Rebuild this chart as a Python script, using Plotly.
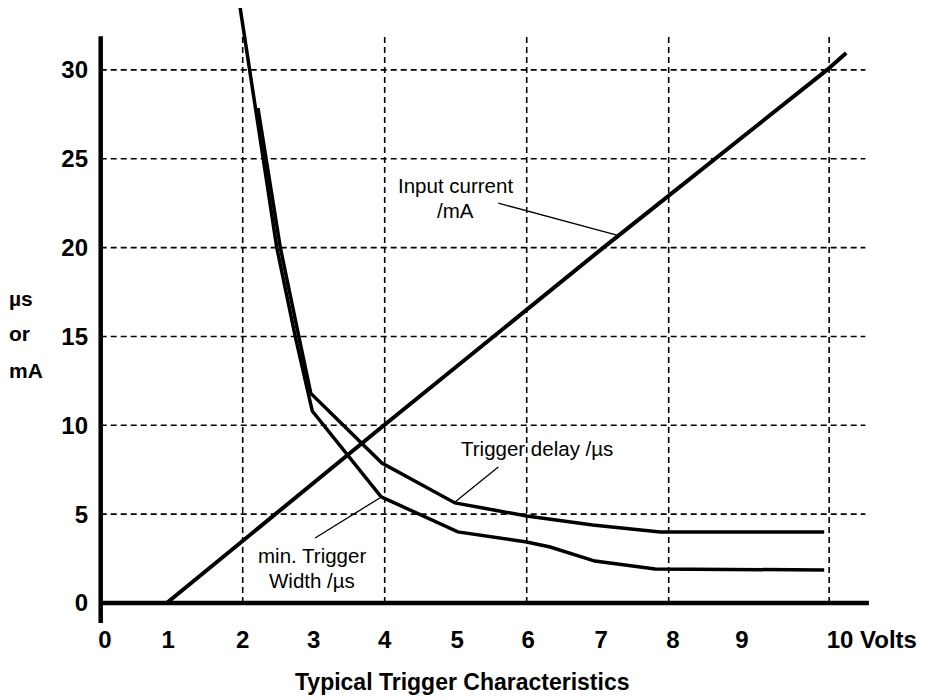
import plotly.graph_objects as go

# ---------------- data ----------------
input_x = [0.93, 3.99, 7.08, 8.65, 10.23, 10.5]
input_y = [0.0, 10.0, 20.0, 25.0, 30.0, 30.95]

width_x = [1.96, 2.10, 2.29, 2.48, 2.74, 2.98, 3.95, 5.03, 6.0, 6.33, 6.96, 7.81, 10.19]
width_y = [33.6, 30.0, 25.0, 20.0, 15.0, 10.8, 5.98, 4.0, 3.43, 3.15, 2.36, 1.91, 1.86]

delay_x = [2.215, 2.33, 2.53, 2.79, 2.96, 3.96, 4.99, 6.0, 6.93, 7.88, 10.19]
delay_y = [27.86, 25.0, 20.0, 15.0, 11.79, 7.88, 5.63, 4.9, 4.39, 4.0, 4.0]

x_tick_vals = [0.06, 0.95, 2.0, 3.0, 4.0, 5.02, 6.02, 7.05, 8.06, 9.03, 10.86]
x_tick_text = ["0", "1", "2", "3", "4", "5", "6", "7", "8", "9", "10 Volts"]
y_tick_vals = [0, 5, 10, 15, 20, 25, 30]
y_tick_text = ["0", "5", "10", "15", "20", "25", "30"]

grid_x = [2, 4, 6, 8, 10.26]
grid_y = [5, 10, 15, 20, 25, 30]

y_title_lines = ["µs", "or", "mA"]
chart_title = "Typical Trigger Characteristics"

# ---------------- figure ----------------
FONT = "Liberation Sans, Arial, sans-serif"
OFF = 8  # page body margin
W, H = 921, 692
ML, MR, MT, MB = 81, 0, 0, 77
pw, ph = W - ML - MR, H - MT - MB


def px(page_x):
    return (page_x - OFF - ML) / pw


def py(page_y):
    return (H - (page_y - OFF) - MB) / ph


fig = go.Figure()

line_style = dict(color="black", width=3.5)
fig.add_trace(go.Scatter(x=input_x, y=input_y, mode="lines",
                         line=dict(color="black", width=4), hoverinfo="skip"))
fig.add_trace(go.Scatter(x=width_x, y=width_y, mode="lines",
                         line=line_style, hoverinfo="skip"))
fig.add_trace(go.Scatter(x=delay_x, y=delay_y, mode="lines",
                         line=line_style, hoverinfo="skip"))

shapes = []
grid_line = dict(color="black", width=1.6, dash="6px,4px")
for gx in grid_x:
    shapes.append(dict(type="line", xref="x", yref="y", x0=gx, x1=gx, y0=0, y1=31.9,
                       line=grid_line, layer="below"))
for gy in grid_y:
    shapes.append(dict(type="line", xref="x", yref="y", x0=0, x1=10.77, y0=gy, y1=gy,
                       line=grid_line, layer="below"))
# axis lines
shapes.append(dict(type="line", xref="x", yref="y", x0=0, x1=0, y0=-1.12, y1=31.9,
                   line=dict(color="black", width=4.5)))
shapes.append(dict(type="line", xref="x", yref="y", x0=0, x1=10.82, y0=0, y1=0,
                   line=dict(color="black", width=4.5)))
# leader lines
leader = dict(color="black", width=1.3)
shapes.append(dict(type="line", xref="x", yref="y", x0=5.6, y0=22.5, x1=7.27, y1=20.7, line=leader))
shapes.append(dict(type="line", xref="x", yref="y", x0=5.6, y0=7.65, x1=4.99, y1=5.68, line=leader))
shapes.append(dict(type="line", xref="x", yref="y", x0=3.02, y0=3.66, x1=3.93, y1=5.91, line=leader))

annos = []
lab_font = dict(family=FONT, size=20.5, color="black")
for txt, ax_, ay_ in [("Input current", 5.0, 23.52), ("/mA", 5.0, 22.06),
                      ("Trigger delay /µs", 6.14, 8.67),
                      ("min. Trigger", 2.98, 2.70), ("Width /µs", 2.98, 1.29)]:
    annos.append(dict(x=ax_, y=ay_, xref="x", yref="y", text=txt, showarrow=False,
                      font=lab_font, xanchor="center", yanchor="middle"))

for i, t in enumerate(y_title_lines):
    annos.append(dict(x=px(7), y=py(298 + 36 * i), xref="paper", yref="paper", text=t,
                      showarrow=False, font=dict(family=FONT, size=21, color="black", weight="bold"),
                      xanchor="left", yanchor="middle"))

annos.append(dict(x=px(462), y=py(682), xref="paper", yref="paper", text=chart_title,
                  showarrow=False, xanchor="center", yanchor="middle",
                  font=dict(family=FONT, size=23, color="black", weight="bold")))

x0_page = 100.7
ux = 71.0
uy = 17.77
x_lo = -(x0_page - OFF - ML) / ux
x_hi = x_lo + pw / ux
y_hi = (603 - OFF) / uy
y_lo = y_hi - ph / uy

fig.update_layout(
    width=W, height=H,
    margin=dict(l=ML, r=MR, t=MT, b=MB, pad=0),
    paper_bgcolor="white", plot_bgcolor="white",
    showlegend=False,
    shapes=shapes, annotations=annos,
    xaxis=dict(range=[x_lo, x_hi], showgrid=False, zeroline=False, showline=False,
               tickmode="array", tickvals=x_tick_vals, ticktext=x_tick_text,
               ticks="", tickfont=dict(family=FONT, size=24, color="black", weight="bold")),
    yaxis=dict(range=[y_lo, y_hi], showgrid=False, zeroline=False, showline=False,
               tickmode="array", tickvals=y_tick_vals, ticktext=y_tick_text,
               ticks="", tickfont=dict(family=FONT, size=24, color="black", weight="bold")),
)

fig.write_html("out.html")
